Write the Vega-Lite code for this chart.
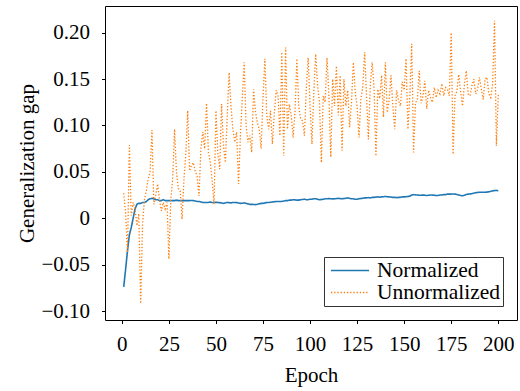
{
 "$schema": "https://vega.github.io/schema/vega-lite/v6.json",
 "width": 412,
 "height": 314,
 "autosize": {"type": "none"},
 "padding": {"left": 105, "top": 6, "right": 3, "bottom": 71},
 "background": "white",
 "config": {
  "font": "Liberation Serif",
  "view": {"stroke": "#000", "strokeWidth": 1},
  "axis": {"grid": false, "domain": false, "tickColor": "#000", "tickSize": 3.5, "tickWidth": 1, "labelColor": "#000", "labelFontSize": 21, "titleFontSize": 21, "titleFontWeight": "normal", "titleColor": "#000", "labelFont": "Liberation Serif", "titleFont": "Liberation Serif"},
  "legend": {"labelFont": "Liberation Serif", "labelFontSize": 21.5, "labelColor": "#000"}
 },
 "data": {"values": [
{"epoch":1,"Normalized":-0.074,"Unnormalized":0.027},
{"epoch":2,"Normalized":-0.055,"Unnormalized":0.005},
{"epoch":3,"Normalized":-0.035,"Unnormalized":-0.037},
{"epoch":4,"Normalized":-0.018,"Unnormalized":0.079},
{"epoch":5,"Normalized":-0.010,"Unnormalized":0.003},
{"epoch":6,"Normalized":0.000,"Unnormalized":0.017},
{"epoch":7,"Normalized":0.010,"Unnormalized":0.010},
{"epoch":8,"Normalized":0.015,"Unnormalized":-0.008},
{"epoch":9,"Normalized":0.016,"Unnormalized":0.005},
{"epoch":10,"Normalized":0.016,"Unnormalized":-0.092},
{"epoch":11,"Normalized":0.017,"Unnormalized":-0.006},
{"epoch":12,"Normalized":0.017,"Unnormalized":0.020},
{"epoch":13,"Normalized":0.018,"Unnormalized":0.030},
{"epoch":14,"Normalized":0.020,"Unnormalized":0.042},
{"epoch":15,"Normalized":0.021,"Unnormalized":0.050},
{"epoch":16,"Normalized":0.0215,"Unnormalized":0.095},
{"epoch":17,"Normalized":0.021,"Unnormalized":0.015},
{"epoch":18,"Normalized":0.020,"Unnormalized":0.025},
{"epoch":19,"Normalized":0.020,"Unnormalized":0.037},
{"epoch":20,"Normalized":0.019,"Unnormalized":0.020},
{"epoch":21,"Normalized":0.019,"Unnormalized":0.008},
{"epoch":22,"Normalized":0.020,"Unnormalized":0.017},
{"epoch":23,"Normalized":0.019,"Unnormalized":0.010},
{"epoch":24,"Normalized":0.019,"Unnormalized":0.017},
{"epoch":25,"Normalized":0.019,"Unnormalized":-0.044},
{"epoch":26,"Normalized":0.019,"Unnormalized":0.020},
{"epoch":27,"Normalized":0.019,"Unnormalized":0.042},
{"epoch":28,"Normalized":0.019,"Unnormalized":0.096},
{"epoch":29,"Normalized":0.0195,"Unnormalized":0.050},
{"epoch":30,"Normalized":0.019,"Unnormalized":0.032},
{"epoch":31,"Normalized":0.019,"Unnormalized":0.030},
{"epoch":32,"Normalized":0.019,"Unnormalized":-0.001},
{"epoch":33,"Normalized":0.019,"Unnormalized":0.042},
{"epoch":34,"Normalized":0.019,"Unnormalized":0.070},
{"epoch":35,"Normalized":0.019,"Unnormalized":0.116},
{"epoch":36,"Normalized":0.019,"Unnormalized":0.051},
{"epoch":37,"Normalized":0.0192,"Unnormalized":0.057},
{"epoch":38,"Normalized":0.019,"Unnormalized":0.060},
{"epoch":39,"Normalized":0.0185,"Unnormalized":0.051},
{"epoch":40,"Normalized":0.018,"Unnormalized":0.045},
{"epoch":41,"Normalized":0.018,"Unnormalized":0.024},
{"epoch":42,"Normalized":0.0175,"Unnormalized":0.075},
{"epoch":43,"Normalized":0.017,"Unnormalized":0.093},
{"epoch":44,"Normalized":0.017,"Unnormalized":0.075},
{"epoch":45,"Normalized":0.017,"Unnormalized":0.124},
{"epoch":46,"Normalized":0.017,"Unnormalized":0.071},
{"epoch":47,"Normalized":0.0175,"Unnormalized":0.060},
{"epoch":48,"Normalized":0.017,"Unnormalized":0.040},
{"epoch":49,"Normalized":0.017,"Unnormalized":0.015},
{"epoch":50,"Normalized":0.0172,"Unnormalized":0.116},
{"epoch":51,"Normalized":0.017,"Unnormalized":0.070},
{"epoch":52,"Normalized":0.0168,"Unnormalized":0.053},
{"epoch":53,"Normalized":0.0165,"Unnormalized":0.123},
{"epoch":54,"Normalized":0.016,"Unnormalized":0.078},
{"epoch":55,"Normalized":0.0165,"Unnormalized":0.060},
{"epoch":56,"Normalized":0.017,"Unnormalized":0.110},
{"epoch":57,"Normalized":0.0168,"Unnormalized":0.157},
{"epoch":58,"Normalized":0.0165,"Unnormalized":0.120},
{"epoch":59,"Normalized":0.017,"Unnormalized":0.096},
{"epoch":60,"Normalized":0.017,"Unnormalized":0.082},
{"epoch":61,"Normalized":0.0168,"Unnormalized":0.093},
{"epoch":62,"Normalized":0.0165,"Unnormalized":0.037},
{"epoch":63,"Normalized":0.016,"Unnormalized":0.089},
{"epoch":64,"Normalized":0.0162,"Unnormalized":0.130},
{"epoch":65,"Normalized":0.0165,"Unnormalized":0.168},
{"epoch":66,"Normalized":0.016,"Unnormalized":0.100},
{"epoch":67,"Normalized":0.0155,"Unnormalized":0.082},
{"epoch":68,"Normalized":0.015,"Unnormalized":0.089},
{"epoch":69,"Normalized":0.015,"Unnormalized":0.071},
{"epoch":70,"Normalized":0.0148,"Unnormalized":0.139},
{"epoch":71,"Normalized":0.0147,"Unnormalized":0.115},
{"epoch":72,"Normalized":0.015,"Unnormalized":0.103},
{"epoch":73,"Normalized":0.0155,"Unnormalized":0.096},
{"epoch":74,"Normalized":0.016,"Unnormalized":0.075},
{"epoch":75,"Normalized":0.016,"Unnormalized":0.130},
{"epoch":76,"Normalized":0.0165,"Unnormalized":0.172},
{"epoch":77,"Normalized":0.017,"Unnormalized":0.111},
{"epoch":78,"Normalized":0.017,"Unnormalized":0.096},
{"epoch":79,"Normalized":0.0172,"Unnormalized":0.116},
{"epoch":80,"Normalized":0.0175,"Unnormalized":0.080},
{"epoch":81,"Normalized":0.0178,"Unnormalized":0.113},
{"epoch":82,"Normalized":0.018,"Unnormalized":0.138},
{"epoch":83,"Normalized":0.018,"Unnormalized":0.132},
{"epoch":84,"Normalized":0.018,"Unnormalized":0.089},
{"epoch":85,"Normalized":0.0182,"Unnormalized":0.179},
{"epoch":86,"Normalized":0.0185,"Unnormalized":0.067},
{"epoch":87,"Normalized":0.019,"Unnormalized":0.184},
{"epoch":88,"Normalized":0.019,"Unnormalized":0.096},
{"epoch":89,"Normalized":0.0195,"Unnormalized":0.123},
{"epoch":90,"Normalized":0.0195,"Unnormalized":0.111},
{"epoch":91,"Normalized":0.020,"Unnormalized":0.087},
{"epoch":92,"Normalized":0.0198,"Unnormalized":0.114},
{"epoch":93,"Normalized":0.0195,"Unnormalized":0.172},
{"epoch":94,"Normalized":0.0195,"Unnormalized":0.120},
{"epoch":95,"Normalized":0.020,"Unnormalized":0.107},
{"epoch":96,"Normalized":0.0202,"Unnormalized":0.105},
{"epoch":97,"Normalized":0.0205,"Unnormalized":0.089},
{"epoch":98,"Normalized":0.020,"Unnormalized":0.140},
{"epoch":99,"Normalized":0.020,"Unnormalized":0.173},
{"epoch":100,"Normalized":0.0205,"Unnormalized":0.121},
{"epoch":101,"Normalized":0.0205,"Unnormalized":0.080},
{"epoch":102,"Normalized":0.021,"Unnormalized":0.136},
{"epoch":103,"Normalized":0.021,"Unnormalized":0.177},
{"epoch":104,"Normalized":0.0205,"Unnormalized":0.143},
{"epoch":105,"Normalized":0.020,"Unnormalized":0.125},
{"epoch":106,"Normalized":0.0202,"Unnormalized":0.060},
{"epoch":107,"Normalized":0.0205,"Unnormalized":0.132},
{"epoch":108,"Normalized":0.021,"Unnormalized":0.125},
{"epoch":109,"Normalized":0.021,"Unnormalized":0.173},
{"epoch":110,"Normalized":0.0212,"Unnormalized":0.132},
{"epoch":111,"Normalized":0.021,"Unnormalized":0.066},
{"epoch":112,"Normalized":0.0208,"Unnormalized":0.150},
{"epoch":113,"Normalized":0.021,"Unnormalized":0.121},
{"epoch":114,"Normalized":0.0212,"Unnormalized":0.164},
{"epoch":115,"Normalized":0.0215,"Unnormalized":0.111},
{"epoch":116,"Normalized":0.0212,"Unnormalized":0.154},
{"epoch":117,"Normalized":0.021,"Unnormalized":0.073},
{"epoch":118,"Normalized":0.0212,"Unnormalized":0.150},
{"epoch":119,"Normalized":0.0215,"Unnormalized":0.121},
{"epoch":120,"Normalized":0.022,"Unnormalized":0.138},
{"epoch":121,"Normalized":0.0215,"Unnormalized":0.098},
{"epoch":122,"Normalized":0.021,"Unnormalized":0.125},
{"epoch":123,"Normalized":0.021,"Unnormalized":0.168},
{"epoch":124,"Normalized":0.0205,"Unnormalized":0.136},
{"epoch":125,"Normalized":0.0205,"Unnormalized":0.120},
{"epoch":126,"Normalized":0.021,"Unnormalized":0.087},
{"epoch":127,"Normalized":0.0212,"Unnormalized":0.129},
{"epoch":128,"Normalized":0.0215,"Unnormalized":0.141},
{"epoch":129,"Normalized":0.022,"Unnormalized":0.179},
{"epoch":130,"Normalized":0.022,"Unnormalized":0.132},
{"epoch":131,"Normalized":0.0222,"Unnormalized":0.085},
{"epoch":132,"Normalized":0.022,"Unnormalized":0.143},
{"epoch":133,"Normalized":0.0225,"Unnormalized":0.168},
{"epoch":134,"Normalized":0.0225,"Unnormalized":0.141},
{"epoch":135,"Normalized":0.0228,"Unnormalized":0.067},
{"epoch":136,"Normalized":0.023,"Unnormalized":0.139},
{"epoch":137,"Normalized":0.0228,"Unnormalized":0.129},
{"epoch":138,"Normalized":0.023,"Unnormalized":0.154},
{"epoch":139,"Normalized":0.0232,"Unnormalized":0.109},
{"epoch":140,"Normalized":0.0235,"Unnormalized":0.168},
{"epoch":141,"Normalized":0.0232,"Unnormalized":0.114},
{"epoch":142,"Normalized":0.023,"Unnormalized":0.127},
{"epoch":143,"Normalized":0.0228,"Unnormalized":0.154},
{"epoch":144,"Normalized":0.0225,"Unnormalized":0.120},
{"epoch":145,"Normalized":0.0225,"Unnormalized":0.096},
{"epoch":146,"Normalized":0.0222,"Unnormalized":0.138},
{"epoch":147,"Normalized":0.0225,"Unnormalized":0.127},
{"epoch":148,"Normalized":0.0225,"Unnormalized":0.121},
{"epoch":149,"Normalized":0.023,"Unnormalized":0.147},
{"epoch":150,"Normalized":0.023,"Unnormalized":0.138},
{"epoch":151,"Normalized":0.0232,"Unnormalized":0.172},
{"epoch":152,"Normalized":0.0235,"Unnormalized":0.096},
{"epoch":153,"Normalized":0.0238,"Unnormalized":0.132},
{"epoch":154,"Normalized":0.025,"Unnormalized":0.188},
{"epoch":155,"Normalized":0.0255,"Unnormalized":0.071},
{"epoch":156,"Normalized":0.0252,"Unnormalized":0.125},
{"epoch":157,"Normalized":0.025,"Unnormalized":0.127},
{"epoch":158,"Normalized":0.0248,"Unnormalized":0.159},
{"epoch":159,"Normalized":0.0248,"Unnormalized":0.124},
{"epoch":160,"Normalized":0.025,"Unnormalized":0.132},
{"epoch":161,"Normalized":0.0248,"Unnormalized":0.148},
{"epoch":162,"Normalized":0.0245,"Unnormalized":0.118},
{"epoch":163,"Normalized":0.0248,"Unnormalized":0.138},
{"epoch":164,"Normalized":0.025,"Unnormalized":0.130},
{"epoch":165,"Normalized":0.025,"Unnormalized":0.125},
{"epoch":166,"Normalized":0.0248,"Unnormalized":0.141},
{"epoch":167,"Normalized":0.0245,"Unnormalized":0.130},
{"epoch":168,"Normalized":0.0245,"Unnormalized":0.138},
{"epoch":169,"Normalized":0.025,"Unnormalized":0.134},
{"epoch":170,"Normalized":0.0252,"Unnormalized":0.145},
{"epoch":171,"Normalized":0.0255,"Unnormalized":0.132},
{"epoch":172,"Normalized":0.0255,"Unnormalized":0.141},
{"epoch":173,"Normalized":0.026,"Unnormalized":0.139},
{"epoch":174,"Normalized":0.026,"Unnormalized":0.132},
{"epoch":175,"Normalized":0.026,"Unnormalized":0.200},
{"epoch":176,"Normalized":0.0262,"Unnormalized":0.069},
{"epoch":177,"Normalized":0.026,"Unnormalized":0.132},
{"epoch":178,"Normalized":0.0255,"Unnormalized":0.137},
{"epoch":179,"Normalized":0.025,"Unnormalized":0.155},
{"epoch":180,"Normalized":0.0245,"Unnormalized":0.137},
{"epoch":181,"Normalized":0.0242,"Unnormalized":0.121},
{"epoch":182,"Normalized":0.0248,"Unnormalized":0.144},
{"epoch":183,"Normalized":0.0255,"Unnormalized":0.159},
{"epoch":184,"Normalized":0.026,"Unnormalized":0.134},
{"epoch":185,"Normalized":0.0262,"Unnormalized":0.132},
{"epoch":186,"Normalized":0.0265,"Unnormalized":0.143},
{"epoch":187,"Normalized":0.027,"Unnormalized":0.150},
{"epoch":188,"Normalized":0.0275,"Unnormalized":0.134},
{"epoch":189,"Normalized":0.0278,"Unnormalized":0.139},
{"epoch":190,"Normalized":0.028,"Unnormalized":0.152},
{"epoch":191,"Normalized":0.028,"Unnormalized":0.139},
{"epoch":192,"Normalized":0.028,"Unnormalized":0.128},
{"epoch":193,"Normalized":0.028,"Unnormalized":0.150},
{"epoch":194,"Normalized":0.0282,"Unnormalized":0.152},
{"epoch":195,"Normalized":0.0285,"Unnormalized":0.134},
{"epoch":196,"Normalized":0.029,"Unnormalized":0.130},
{"epoch":197,"Normalized":0.0295,"Unnormalized":0.145},
{"epoch":198,"Normalized":0.0298,"Unnormalized":0.213},
{"epoch":199,"Normalized":0.030,"Unnormalized":0.078},
{"epoch":200,"Normalized":0.0295,"Unnormalized":0.133}
 ]},
 "transform": [{"fold": ["Normalized", "Unnormalized"], "as": ["series", "gap"]}],
 "mark": {"type": "line", "interpolate": "linear"},
 "encoding": {
  "x": {"field": "epoch", "type": "quantitative",
   "scale": {"domain": [-8.95, 209.95], "nice": false, "zero": false},
   "axis": {"values": [0, 25, 50, 75, 100, 125, 150, 175, 200], "title": "Epoch", "labelPadding": 10, "labelFlush": false, "titleY": 55, "titleBaseline": "middle"}},
  "y": {"field": "gap", "type": "quantitative",
   "scale": {"domain": [-0.1097, 0.2288], "nice": false, "zero": false},
   "axis": {"values": [-0.1, -0.05, 0, 0.05, 0.1, 0.15, 0.2], "labelExpr": "datum.value == 0 ? '0' : format(datum.value, '.2f')", "title": "Generalization gap", "labelPadding": 12, "labelFlush": false, "titleX": -78, "titleY": 157, "titleAngle": -90, "titleBaseline": "middle", "titleAlign": "center"}},
  "color": {"field": "series", "type": "nominal",
   "scale": {"domain": ["Normalized", "Unnormalized"], "range": ["#1f77b4", "#ff7f0e"]},
   "legend": {"title": null, "orient": "none", "legendX": 219, "legendY": 251, "symbolType": "M-1,0H2.8", "symbolSize": 400, "symbolStrokeWidth": 1.5, "symbolOffset": 3, "labelOffset": 25, "padding": 3, "rowPadding": 0, "clipHeight": 21, "strokeColor": "#333", "fillColor": "#fff", "cornerRadius": 0}},
  "strokeDash": {"field": "series", "type": "nominal",
   "scale": {"domain": ["Normalized", "Unnormalized"], "range": [[1, 0], [1.3, 1.9]]},
   "legend": {"title": null, "orient": "none", "legendX": 219, "legendY": 251, "symbolType": "M-1,0H2.8", "symbolSize": 400, "symbolStrokeWidth": 1.5, "symbolOffset": 3, "labelOffset": 25, "padding": 3, "rowPadding": 0, "clipHeight": 21, "strokeColor": "#333", "fillColor": "#fff", "cornerRadius": 0}},
  "strokeWidth": {"field": "series", "type": "ordinal",
   "scale": {"domain": ["Normalized", "Unnormalized"], "range": [1.6, 1.3]}, "legend": null}
 }
}
